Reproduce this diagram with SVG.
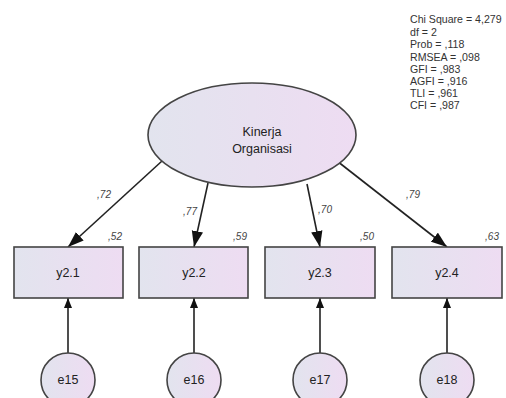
<svg xmlns="http://www.w3.org/2000/svg" width="506" height="398" viewBox="0 0 506 398">
<defs>
<linearGradient id="g" x1="0" y1="0" x2="1" y2="0">
<stop offset="0" stop-color="#e2e4ee"/>
<stop offset="1" stop-color="#eedcf2"/>
</linearGradient>
<marker id="ah" viewBox="0 0 10 10" refX="10" refY="5" markerWidth="10" markerHeight="10" markerUnits="userSpaceOnUse" orient="auto">
<path d="M0,1 L10,5 L0,9 Z" fill="#111"/>
</marker>
<marker id="ahb" viewBox="0 0 14 10" refX="14" refY="5" markerWidth="16" markerHeight="12" markerUnits="userSpaceOnUse" orient="auto">
<path d="M0,0 L14,5 L0,10 Z" fill="#111"/>
</marker>
</defs>
<style>
.shape{fill:url(#g);stroke:#444;stroke-width:1.6}
.lbl{font-family:"Liberation Sans",Arial,sans-serif;font-size:12.5px;fill:#222;text-anchor:middle}
.num{font-family:"Liberation Sans",Arial,sans-serif;font-size:10px;fill:#444;text-anchor:middle;font-style:italic}
.fit{font-family:"Liberation Sans",Arial,sans-serif;font-size:10.6px;fill:#333}
.con{stroke:#222;stroke-width:1.6;fill:none}
</style>
<rect width="506" height="398" fill="#fff"/>
<g id="fit">
<text class="fit" x="410" y="23">Chi Square = 4,279</text>
<text class="fit" x="410" y="36">df = 2</text>
<text class="fit" x="410" y="48">Prob = ,118</text>
<text class="fit" x="410" y="61">RMSEA = ,098</text>
<text class="fit" x="410" y="73">GFI = ,983</text>
<text class="fit" x="410" y="85">AGFI = ,916</text>
<text class="fit" x="410" y="97">TLI = ,961</text>
<text class="fit" x="410" y="109">CFI = ,987</text>
</g>
<g id="connectors">
<line class="con" x1="162" y1="161" x2="68" y2="247" marker-end="url(#ahb)"/>
<line class="con" x1="208" y1="183" x2="194" y2="247" marker-end="url(#ahb)"/>
<line class="con" x1="307" y1="184" x2="320" y2="247" marker-end="url(#ahb)"/>
<line class="con" x1="337" y1="161" x2="447" y2="247" marker-end="url(#ahb)"/>
<line class="con" x1="68" y1="353" x2="68" y2="298" marker-end="url(#ah)"/>
<line class="con" x1="194" y1="353" x2="194" y2="298" marker-end="url(#ah)"/>
<line class="con" x1="320" y1="353" x2="320" y2="298" marker-end="url(#ah)"/>
<line class="con" x1="447" y1="353" x2="447" y2="298" marker-end="url(#ah)"/>
<text class="num" x="104" y="198">,72</text>
<text class="num" x="190" y="215">,77</text>
<text class="num" x="325" y="213">,70</text>
<text class="num" x="413" y="198">,79</text>
</g>
<g id="kinerja">
<ellipse class="shape" cx="252" cy="135" rx="104" ry="52"/>
<text class="lbl" x="262" y="136">Kinerja</text>
<text class="lbl" x="262" y="153">Organisasi</text>
</g>
<g id="y21">
<rect class="shape" x="14" y="247" width="109" height="51"/>
<text class="lbl" x="68" y="277">y2.1</text>
<text class="num" x="115" y="240">,52</text>
</g>
<g id="y22">
<rect class="shape" x="139" y="247" width="109" height="51"/>
<text class="lbl" x="194" y="277">y2.2</text>
<text class="num" x="240" y="240">,59</text>
</g>
<g id="y23">
<rect class="shape" x="265" y="247" width="110" height="51"/>
<text class="lbl" x="320" y="277">y2.3</text>
<text class="num" x="367" y="240">,50</text>
</g>
<g id="y24">
<rect class="shape" x="392" y="247" width="110" height="51"/>
<text class="lbl" x="447" y="277">y2.4</text>
<text class="num" x="492" y="240">,63</text>
</g>
<g id="e15">
<circle class="shape" cx="68" cy="380" r="27"/>
<text class="lbl" x="68" y="384">e15</text>
</g>
<g id="e16">
<circle class="shape" cx="194" cy="380" r="27"/>
<text class="lbl" x="194" y="384">e16</text>
</g>
<g id="e17">
<circle class="shape" cx="320" cy="380" r="27"/>
<text class="lbl" x="320" y="384">e17</text>
</g>
<g id="e18">
<circle class="shape" cx="447" cy="380" r="27"/>
<text class="lbl" x="447" y="384">e18</text>
</g>
</svg>
